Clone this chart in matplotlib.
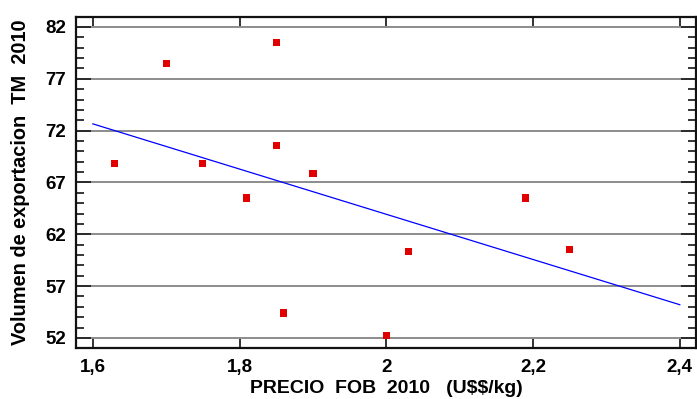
import matplotlib
matplotlib.use('Agg')
import matplotlib.pyplot as plt
from matplotlib.ticker import FuncFormatter, MultipleLocator

# datos
precio = [1.63, 1.70, 1.85, 1.75, 1.81, 1.85, 1.90, 1.86, 2.00, 2.03, 2.19, 2.25]
volumen = [68.8, 78.5, 80.5, 68.8, 65.5, 70.6, 67.9, 54.4, 52.2, 60.3, 65.5, 60.5]
# recta de regresion (extremos)
fit_x = [1.60, 2.40]
fit_y = [72.65, 55.2]

plt.rcParams['font.family'] = ['Liberation Sans', 'DejaVu Sans']
plt.rcParams['font.weight'] = 'bold'

fig = plt.figure(figsize=(6.97, 3.99), dpi=100)
ax = fig.add_axes([0.109, 0.128, 0.8895, 0.8296])

ax.plot(fit_x, fit_y, color='#0000ff', lw=0.9, zorder=3)
ax.scatter(precio, volumen, marker='s', s=26, color='#e00000', edgecolors='none', zorder=4)

ax.set_xlim(1.577, 2.422)
ax.set_ylim(51.03, 82.97)
ax.set_xticks([1.6, 1.8, 2.0, 2.2, 2.4])
ax.set_yticks([52, 57, 62, 67, 72, 77, 82])
ax.yaxis.set_minor_locator(MultipleLocator(1))
ax.xaxis.set_major_formatter(FuncFormatter(lambda v, p: f'{v:g}'.replace('.', ',')))

ax.yaxis.grid(True, color='#8c8c8c', lw=1.4)
ax.set_axisbelow(True)

ax.tick_params(axis='both', which='major', direction='in', top=True, right=True,
               labelsize=13.5, width=1.3, color='#222222')
ax.tick_params(axis='x', which='major', length=7, pad=8)
ax.tick_params(axis='y', which='major', length=11, pad=7)
ax.tick_params(axis='y', which='minor', direction='in', right=True, length=6, width=1.1)
for lab in ax.get_xticklabels() + ax.get_yticklabels():
    lab.set_fontweight('bold')

for s in ax.spines.values():
    s.set_linewidth(1.6)
    s.set_color('#111111')

ax.set_xlabel(r'PRECIO  FOB  2010   (U\$\$/kg)', fontsize=14, fontweight='bold')
ax.set_ylabel('Volumen de exportacion  TM  2010', fontsize=14.4, fontweight='bold')
ax.xaxis.set_label_coords(0.5, -0.097)
ax.yaxis.set_label_coords(-0.074, 0.5)

fig.savefig('out.png', dpi=100)
